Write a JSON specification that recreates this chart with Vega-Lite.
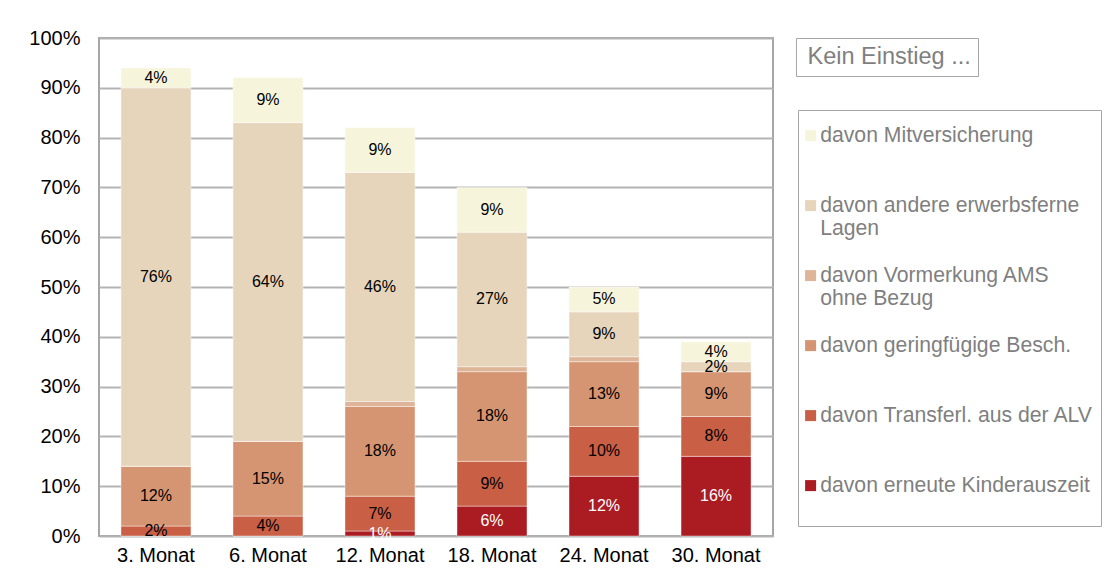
{
  "$schema": "https://vega.github.io/schema/vega-lite/v6.json",
  "width": 674,
  "height": 498,
  "autosize": {"type": "none"},
  "padding": {"left": 99, "top": 38, "right": 334, "bottom": 46},
  "background": "white",
  "config": {
    "font": "Liberation Sans",
    "view": {"stroke": "#a6a6a6", "strokeWidth": 2}
  },
  "data": {
    "values": [
      {"month": "3. Monat", "series": "davon erneute Kinderauszeit", "rank": 1, "value": 0},
      {"month": "3. Monat", "series": "davon Transferl. aus der ALV", "rank": 2, "value": 0.02},
      {"month": "3. Monat", "series": "davon geringfügige Besch.", "rank": 3, "value": 0.12},
      {"month": "3. Monat", "series": "davon Vormerkung AMS ohne Bezug", "rank": 4, "value": 0},
      {"month": "3. Monat", "series": "davon andere erwerbsferne Lagen", "rank": 5, "value": 0.76},
      {"month": "3. Monat", "series": "davon Mitversicherung", "rank": 6, "value": 0.04},
      {"month": "6. Monat", "series": "davon erneute Kinderauszeit", "rank": 1, "value": 0},
      {"month": "6. Monat", "series": "davon Transferl. aus der ALV", "rank": 2, "value": 0.04},
      {"month": "6. Monat", "series": "davon geringfügige Besch.", "rank": 3, "value": 0.15},
      {"month": "6. Monat", "series": "davon Vormerkung AMS ohne Bezug", "rank": 4, "value": 0},
      {"month": "6. Monat", "series": "davon andere erwerbsferne Lagen", "rank": 5, "value": 0.64},
      {"month": "6. Monat", "series": "davon Mitversicherung", "rank": 6, "value": 0.09},
      {"month": "12. Monat", "series": "davon erneute Kinderauszeit", "rank": 1, "value": 0.01},
      {"month": "12. Monat", "series": "davon Transferl. aus der ALV", "rank": 2, "value": 0.07},
      {"month": "12. Monat", "series": "davon geringfügige Besch.", "rank": 3, "value": 0.18},
      {"month": "12. Monat", "series": "davon Vormerkung AMS ohne Bezug", "rank": 4, "value": 0.01},
      {"month": "12. Monat", "series": "davon andere erwerbsferne Lagen", "rank": 5, "value": 0.46},
      {"month": "12. Monat", "series": "davon Mitversicherung", "rank": 6, "value": 0.09},
      {"month": "18. Monat", "series": "davon erneute Kinderauszeit", "rank": 1, "value": 0.06},
      {"month": "18. Monat", "series": "davon Transferl. aus der ALV", "rank": 2, "value": 0.09},
      {"month": "18. Monat", "series": "davon geringfügige Besch.", "rank": 3, "value": 0.18},
      {"month": "18. Monat", "series": "davon Vormerkung AMS ohne Bezug", "rank": 4, "value": 0.01},
      {"month": "18. Monat", "series": "davon andere erwerbsferne Lagen", "rank": 5, "value": 0.27},
      {"month": "18. Monat", "series": "davon Mitversicherung", "rank": 6, "value": 0.09},
      {"month": "24. Monat", "series": "davon erneute Kinderauszeit", "rank": 1, "value": 0.12},
      {"month": "24. Monat", "series": "davon Transferl. aus der ALV", "rank": 2, "value": 0.10},
      {"month": "24. Monat", "series": "davon geringfügige Besch.", "rank": 3, "value": 0.13},
      {"month": "24. Monat", "series": "davon Vormerkung AMS ohne Bezug", "rank": 4, "value": 0.01},
      {"month": "24. Monat", "series": "davon andere erwerbsferne Lagen", "rank": 5, "value": 0.09},
      {"month": "24. Monat", "series": "davon Mitversicherung", "rank": 6, "value": 0.05},
      {"month": "30. Monat", "series": "davon erneute Kinderauszeit", "rank": 1, "value": 0.16},
      {"month": "30. Monat", "series": "davon Transferl. aus der ALV", "rank": 2, "value": 0.08},
      {"month": "30. Monat", "series": "davon geringfügige Besch.", "rank": 3, "value": 0.09},
      {"month": "30. Monat", "series": "davon Vormerkung AMS ohne Bezug", "rank": 4, "value": 0},
      {"month": "30. Monat", "series": "davon andere erwerbsferne Lagen", "rank": 5, "value": 0.02},
      {"month": "30. Monat", "series": "davon Mitversicherung", "rank": 6, "value": 0.04}
    ]
  },
  "encoding": {
    "x": {
      "field": "month",
      "type": "nominal",
      "sort": null,
      "title": null,
      "scale": {"paddingInner": 0.375, "paddingOuter": 0.196},
      "axis": {
        "labelAngle": 0,
        "labelFontSize": 20,
        "labelColor": "#000000",
        "labelPadding": 9,
        "ticks": false,
        "domain": false
      }
    },
    "y": {
      "field": "value",
      "type": "quantitative",
      "stack": "zero",
      "title": null,
      "scale": {"domain": [0, 1], "nice": false},
      "axis": {
        "format": ".0%",
        "values": [0, 0.1, 0.2, 0.3, 0.4, 0.5, 0.6, 0.7, 0.8, 0.9, 1],
        "labelFontSize": 20,
        "labelColor": "#000000",
        "labelPadding": 19,
        "ticks": false,
        "domain": false,
        "grid": true,
        "gridColor": "#b3b3b3",
        "gridWidth": 2
      }
    },
    "order": {"field": "rank", "type": "quantitative", "sort": "ascending"}
  },
  "layer": [
    {
      "mark": {"type": "bar", "stroke": "#ffffff", "strokeWidth": 0.7, "strokeOpacity": 0.6},
      "encoding": {
        "color": {
          "field": "series",
          "type": "nominal",
          "scale": {
            "domain": ["davon erneute Kinderauszeit", "davon Transferl. aus der ALV", "davon geringfügige Besch.", "davon Vormerkung AMS ohne Bezug", "davon andere erwerbsferne Lagen", "davon Mitversicherung"],
            "range": ["#ab1c22", "#c95f45", "#d59572", "#deb598", "#e6d5bb", "#f6f5dc"]
          },
          "legend": {
            "orient": "none",
            "legendX": 699,
            "legendY": 72,
            "title": " ",
            "titleFontSize": 4,
            "titlePadding": 4,
            "values": ["davon Mitversicherung", "davon andere erwerbsferne Lagen", "davon Vormerkung AMS ohne Bezug", "davon geringfügige Besch.", "davon Transferl. aus der ALV", "davon erneute Kinderauszeit"],
            "labelExpr": "datum.label == 'davon andere erwerbsferne Lagen' ? ['davon andere erwerbsferne', 'Lagen'] : datum.label == 'davon Vormerkung AMS ohne Bezug' ? ['davon Vormerkung AMS', 'ohne Bezug'] : [datum.label, '']",
            "symbolType": "square",
            "symbolSize": 121,
            "symbolStrokeWidth": 0,
            "symbolOffset": -5,
            "labelFontSize": 21.2,
            "labelColor": "#7f7f7f",
            "labelOffset": -1,
            "labelLimit": 500,
            "labelBaseline": "middle",
            "padding": 7,
            "rowPadding": 25,
            "strokeColor": "#a6a6a6",
            "encode": {"legend": {"update": {"strokeWidth": {"value": 2}}}}
          }
        },
        "opacity": {
          "datum": "Kein Einstieg ...",
          "type": "nominal",
          "scale": {"type": "ordinal", "range": [1]},
          "legend": {
            "orient": "none",
            "legendX": 697,
            "legendY": 0,
            "title": null,
            "symbolSize": 0,
            "symbolOpacity": 0,
            "symbolStrokeWidth": 0,
            "labelFontSize": 23.5,
            "labelColor": "#7f7f7f",
            "labelOffset": -19,
            "labelLimit": 400,
            "padding": 7,
            "strokeColor": "#a6a6a6",
            "encode": {"legend": {"update": {"strokeWidth": {"value": 2}}}}
          }
        }
      }
    },
    {
      "mark": {"type": "text", "fontSize": 16, "baseline": "middle"},
      "encoding": {
        "y": {"field": "value", "type": "quantitative", "stack": "zero", "bandPosition": 0.5},
        "detail": {"field": "series"},
        "text": {
          "condition": {"test": "datum.value == 0 || datum.series == 'davon Vormerkung AMS ohne Bezug'", "value": ""},
          "field": "value",
          "type": "quantitative",
          "format": ".0%"
        },
        "color": {
          "condition": {"test": "datum.series == 'davon erneute Kinderauszeit'", "value": "#ffffff"},
          "value": "#000000"
        }
      }
    }
  ]
}
